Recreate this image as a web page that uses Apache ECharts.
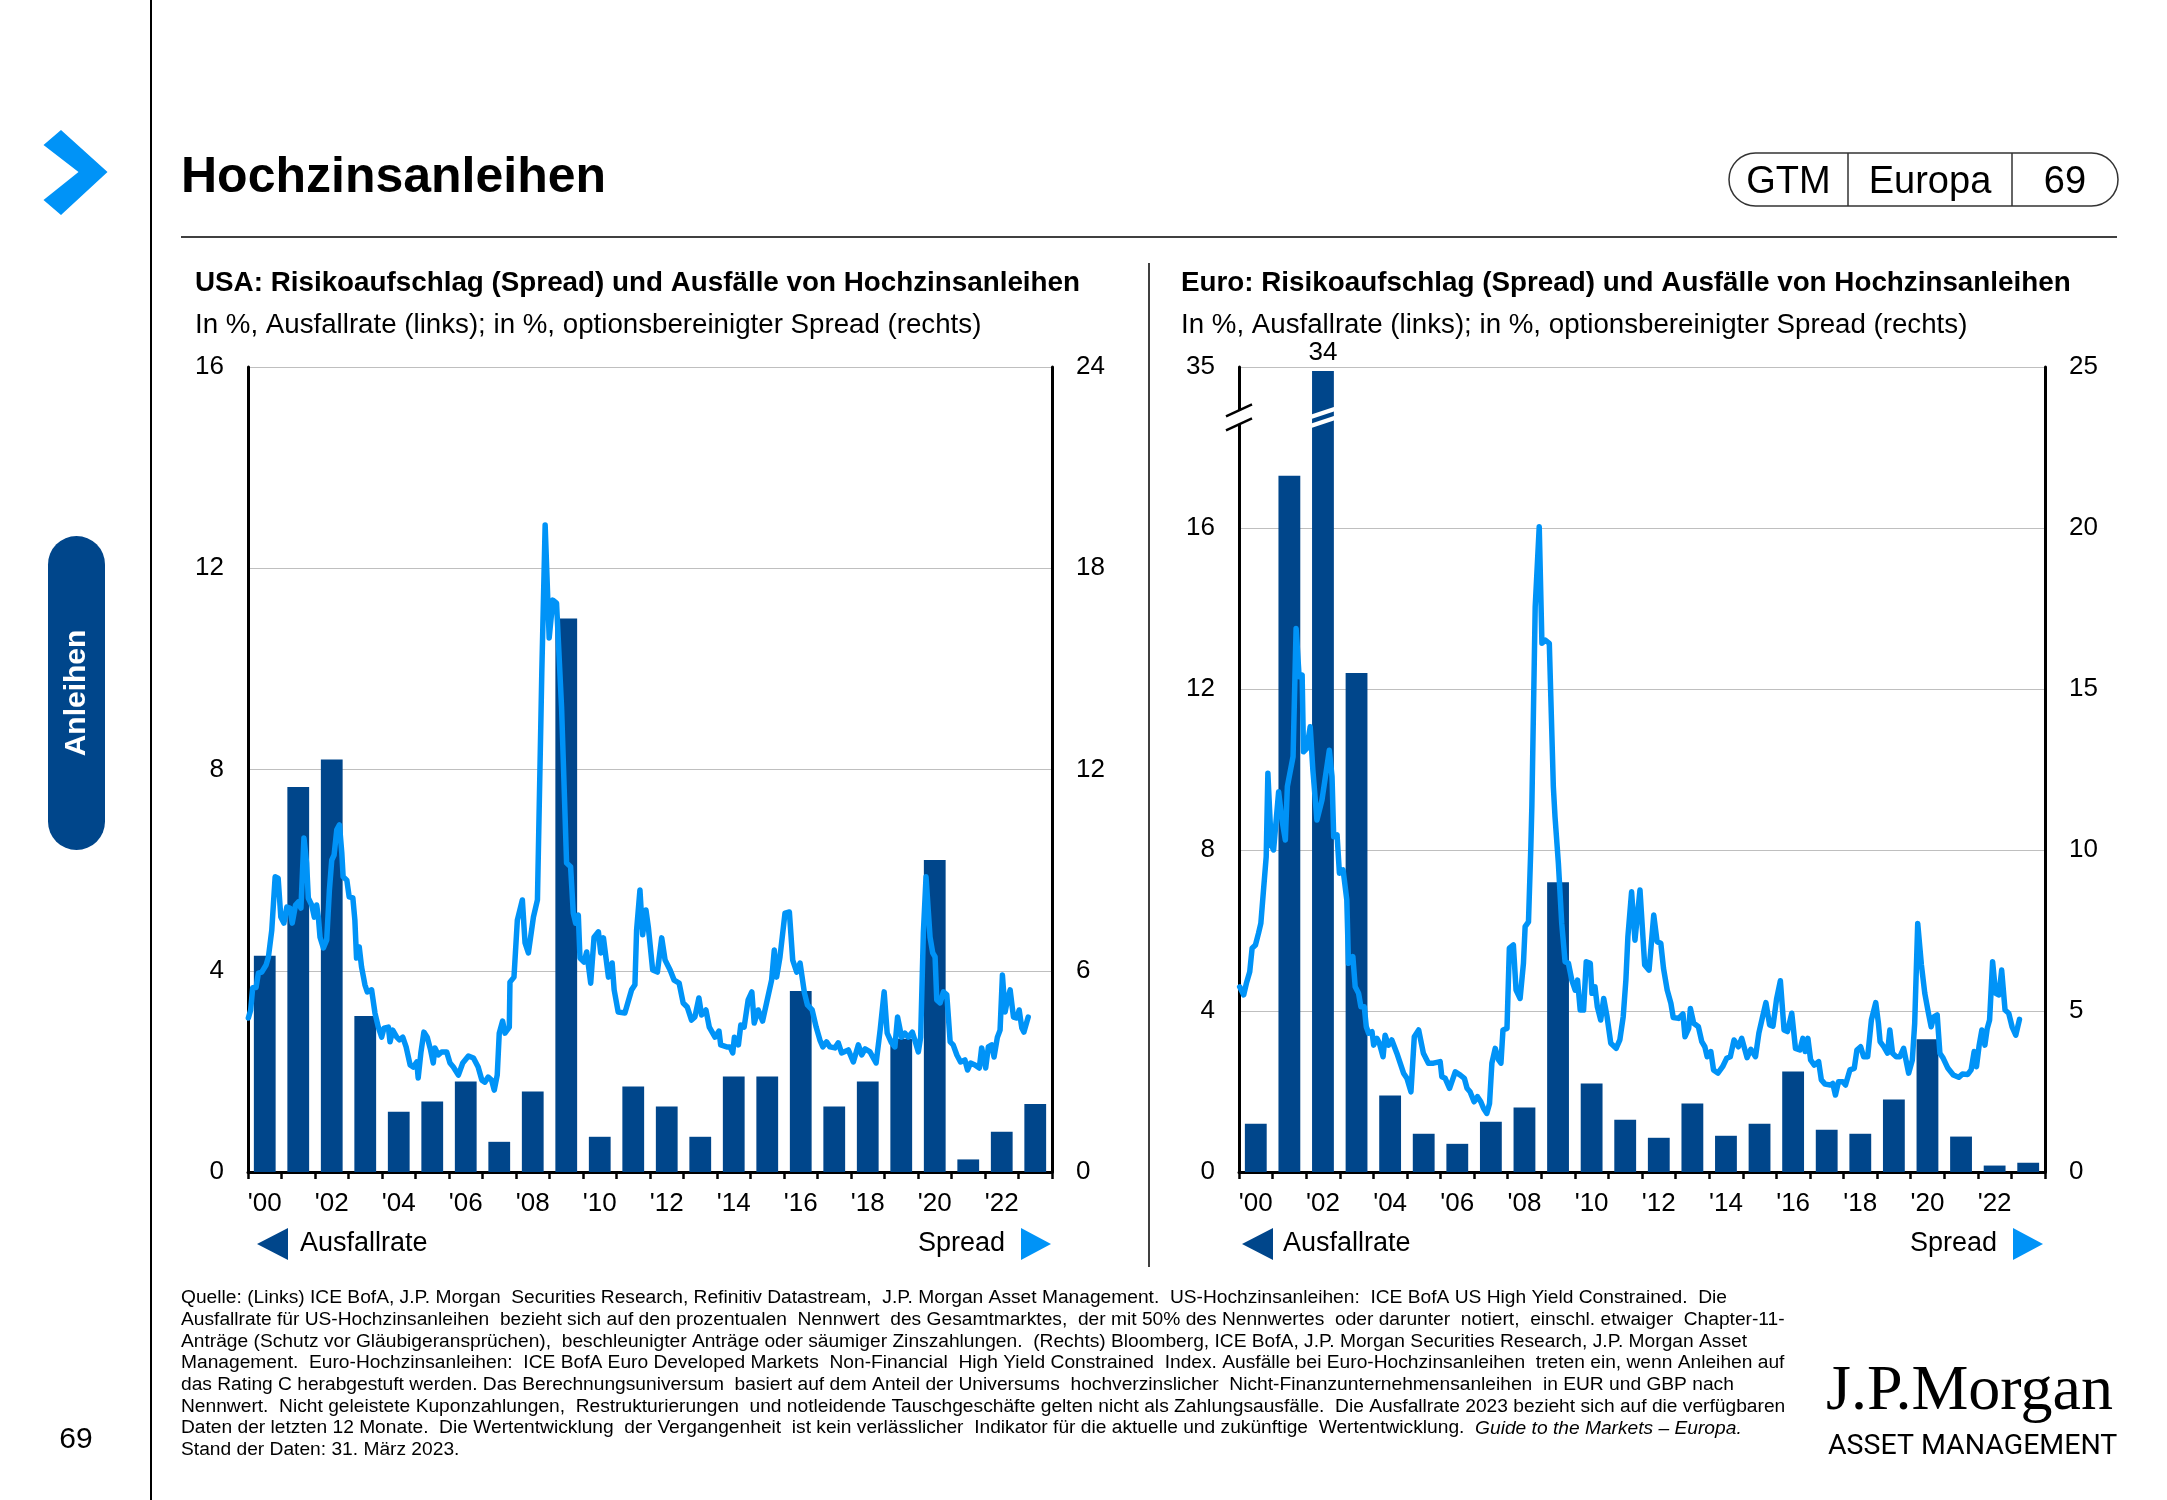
<!DOCTYPE html>
<html><head><meta charset="utf-8">
<script src="https://cdn.jsdelivr.net/npm/echarts@6/dist/echarts.min.js"></script>
<style>html,body{margin:0;padding:0;background:#fff}#c{width:2167px;height:1500px}</style>
</head><body><div id="c"></div>
<script>
// ---------- DATA ----------
const years = ['2000','2001','2002','2003','2004','2005','2006','2007','2008','2009','2010','2011','2012','2013','2014','2015','2016','2017','2018','2019','2020','2021','2022','2023'];
const usDefaultRate = [4.3,7.65,8.2,3.1,1.2,1.4,1.8,0.6,1.6,11.0,0.7,1.7,1.3,0.7,1.9,1.9,3.6,1.3,1.8,2.65,6.2,0.25,0.8,1.35];
const euDefaultRate = [1.2,17.3,34,12.4,1.9,0.95,0.7,1.25,1.6,7.2,2.2,1.3,0.85,1.7,0.9,1.2,2.5,1.05,0.95,1.8,3.3,0.88,0.16,0.23];
const usSpread = [[2000.01,4.59],[2000.08,4.83],[2000.14,5.49],[2000.24,5.50],[2000.31,5.93],[2000.41,5.96],[2000.54,6.17],[2000.61,6.41],[2000.71,7.21],[2000.81,8.80],[2000.90,8.76],[2000.98,7.60],[2001.07,7.42],[2001.16,7.90],[2001.25,7.87],[2001.32,7.42],[2001.42,7.96],[2001.50,8.05],[2001.58,7.87],[2001.67,9.96],[2001.75,9.21],[2001.80,8.17],[2001.90,7.96],[2001.98,7.60],[2002.05,7.96],[2002.10,7.60],[2002.15,7.00],[2002.25,6.68],[2002.35,6.92],[2002.43,8.41],[2002.50,9.30],[2002.57,9.45],[2002.65,10.20],[2002.73,10.35],[2002.80,9.51],[2002.84,8.80],[2002.95,8.70],[2003.02,8.20],[2003.13,8.17],[2003.19,7.51],[2003.24,6.38],[2003.32,6.71],[2003.39,6.11],[2003.49,5.58],[2003.56,5.37],[2003.69,5.43],[2003.79,4.74],[2003.89,4.32],[2003.99,4.02],[2004.06,4.29],[2004.19,4.32],[2004.24,3.88],[2004.32,4.23],[2004.44,4.02],[2004.52,3.94],[2004.62,4.02],[2004.72,3.73],[2004.84,3.19],[2004.93,3.13],[2005.04,3.28],[2005.08,2.80],[2005.16,3.55],[2005.25,4.17],[2005.35,4.02],[2005.45,3.64],[2005.53,3.25],[2005.58,3.70],[2005.68,3.49],[2005.78,3.58],[2005.93,3.58],[2006.03,3.25],[2006.13,3.13],[2006.28,2.89],[2006.41,3.25],[2006.58,3.46],[2006.73,3.40],[2006.87,3.13],[2006.98,2.74],[2007.07,2.68],[2007.17,2.83],[2007.27,2.74],[2007.35,2.44],[2007.44,2.89],[2007.50,4.14],[2007.60,4.50],[2007.67,4.14],[2007.80,4.32],[2007.82,5.66],[2007.94,5.81],[2008.04,7.51],[2008.19,8.11],[2008.27,6.83],[2008.37,6.53],[2008.52,7.60],[2008.64,8.11],[2008.77,14.88],[2008.87,19.29],[2008.99,15.92],[2009.10,17.05],[2009.21,16.96],[2009.36,13.86],[2009.51,9.21],[2009.63,9.10],[2009.71,7.72],[2009.78,7.42],[2009.86,7.66],[2009.91,6.38],[2010.03,6.26],[2010.11,6.56],[2010.23,5.63],[2010.33,7.00],[2010.46,7.16],[2010.53,6.53],[2010.61,6.98],[2010.76,5.81],[2010.87,6.23],[2010.93,5.43],[2011.05,4.77],[2011.25,4.74],[2011.45,5.43],[2011.55,5.58],[2011.60,7.21],[2011.70,8.41],[2011.78,7.07],[2011.88,7.81],[2011.95,7.30],[2012.08,6.02],[2012.22,5.96],[2012.35,6.98],[2012.45,6.32],[2012.60,6.02],[2012.72,5.72],[2012.87,5.63],[2012.99,5.04],[2013.11,4.92],[2013.24,4.53],[2013.34,4.62],[2013.46,5.19],[2013.54,4.68],[2013.67,4.83],[2013.77,4.32],[2013.94,4.02],[2014.06,4.20],[2014.11,3.79],[2014.29,3.73],[2014.39,3.73],[2014.47,3.55],[2014.52,4.02],[2014.64,3.79],[2014.71,4.38],[2014.81,4.32],[2014.93,5.13],[2015.04,5.37],[2015.11,4.44],[2015.23,4.83],[2015.36,4.50],[2015.48,5.04],[2015.63,5.72],[2015.71,6.62],[2015.78,5.81],[2015.88,6.41],[2016.03,7.72],[2016.16,7.75],[2016.26,6.32],[2016.38,5.96],[2016.48,6.23],[2016.61,5.34],[2016.70,4.98],[2016.84,4.83],[2016.96,4.32],[2017.07,3.94],[2017.16,3.73],[2017.27,3.88],[2017.37,3.73],[2017.52,3.70],[2017.62,3.85],[2017.72,3.55],[2017.92,3.64],[2018.07,3.28],[2018.22,3.79],[2018.32,3.49],[2018.42,3.67],[2018.57,3.58],[2018.65,3.43],[2018.75,3.25],[2018.87,4.23],[2018.99,5.37],[2019.08,4.14],[2019.21,3.85],[2019.31,3.73],[2019.39,4.62],[2019.51,4.02],[2019.61,4.14],[2019.71,4.02],[2019.83,4.17],[2019.93,3.85],[2020.01,3.58],[2020.08,4.02],[2020.16,7.13],[2020.24,8.80],[2020.36,7.00],[2020.44,6.53],[2020.51,6.41],[2020.56,5.13],[2020.66,5.04],[2020.76,5.37],[2020.86,5.28],[2020.96,3.88],[2021.05,3.79],[2021.16,3.49],[2021.27,3.28],[2021.40,3.34],[2021.48,3.04],[2021.57,3.25],[2021.70,3.19],[2021.83,3.10],[2021.90,3.70],[2022.02,3.10],[2022.10,3.73],[2022.20,3.79],[2022.27,3.43],[2022.37,4.02],[2022.45,4.23],[2022.52,5.87],[2022.60,4.77],[2022.67,5.13],[2022.75,5.43],[2022.85,4.62],[2022.95,4.59],[2023.02,4.83],[2023.10,4.29],[2023.16,4.17],[2023.29,4.62]];
const euSpread = [[2000.02,5.75],[2000.14,5.50],[2000.22,5.86],[2000.32,6.22],[2000.39,6.95],[2000.49,7.05],[2000.58,7.41],[2000.65,7.72],[2000.73,8.76],[2000.81,9.79],[2000.86,12.38],[2000.96,10.15],[2001.03,10.00],[2001.18,11.81],[2001.28,10.93],[2001.38,10.31],[2001.44,11.97],[2001.61,12.90],[2001.70,16.88],[2001.79,15.38],[2001.88,15.43],[2001.92,13.05],[2002.02,13.16],[2002.12,13.83],[2002.20,12.48],[2002.32,10.93],[2002.47,11.55],[2002.69,13.10],[2002.77,12.28],[2002.82,10.41],[2002.92,10.47],[2002.99,9.28],[2003.10,9.38],[2003.21,8.45],[2003.26,6.48],[2003.39,6.69],[2003.46,5.75],[2003.56,5.55],[2003.63,5.13],[2003.73,5.13],[2003.79,4.51],[2003.86,4.31],[2003.96,4.36],[2004.01,3.94],[2004.11,4.15],[2004.18,4.00],[2004.29,3.58],[2004.35,4.25],[2004.45,3.94],[2004.55,4.10],[2004.70,3.69],[2004.90,3.07],[2005.00,2.91],[2005.12,2.49],[2005.22,4.20],[2005.35,4.41],[2005.49,3.69],[2005.64,3.38],[2005.79,3.38],[2005.99,3.43],[2006.04,2.96],[2006.14,2.91],[2006.27,2.60],[2006.44,3.11],[2006.59,3.01],[2006.71,2.91],[2006.79,2.60],[2006.88,2.49],[2007.00,2.18],[2007.10,2.34],[2007.20,2.18],[2007.28,1.98],[2007.38,1.82],[2007.46,2.13],[2007.53,3.38],[2007.63,3.84],[2007.73,3.48],[2007.80,3.38],[2007.86,4.41],[2007.98,4.46],[2008.05,6.95],[2008.17,7.05],[2008.25,5.65],[2008.37,5.39],[2008.47,6.48],[2008.52,7.62],[2008.62,7.77],[2008.69,10.10],[2008.72,11.35],[2008.82,17.56],[2008.94,20.04],[2009.02,16.42],[2009.12,16.52],[2009.24,16.42],[2009.36,11.97],[2009.41,11.03],[2009.51,9.59],[2009.61,7.72],[2009.71,6.53],[2009.81,6.48],[2009.91,5.96],[2010.01,5.65],[2010.08,5.96],[2010.16,5.03],[2010.26,5.03],[2010.34,6.53],[2010.46,6.48],[2010.51,5.55],[2010.60,5.75],[2010.67,5.13],[2010.77,4.72],[2010.86,5.39],[2010.96,4.82],[2011.07,4.00],[2011.23,3.84],[2011.34,4.10],[2011.44,4.82],[2011.52,5.96],[2011.58,7.31],[2011.69,8.70],[2011.79,7.20],[2011.94,8.76],[2012.08,6.43],[2012.21,6.27],[2012.35,7.98],[2012.45,7.15],[2012.56,7.10],[2012.64,6.33],[2012.75,5.65],[2012.86,5.24],[2012.93,4.80],[2013.09,4.77],[2013.22,4.91],[2013.28,4.20],[2013.39,4.46],[2013.44,5.08],[2013.54,4.62],[2013.68,4.51],[2013.78,4.05],[2013.87,3.89],[2013.94,3.58],[2014.05,3.74],[2014.13,3.17],[2014.26,3.07],[2014.40,3.27],[2014.52,3.53],[2014.63,3.58],[2014.74,4.10],[2014.87,3.89],[2014.97,4.15],[2015.13,3.55],[2015.24,3.81],[2015.38,3.58],[2015.48,4.31],[2015.59,4.82],[2015.69,5.26],[2015.80,4.57],[2015.90,4.53],[2016.01,5.39],[2016.12,5.94],[2016.23,4.41],[2016.33,4.36],[2016.46,4.93],[2016.57,3.84],[2016.70,3.79],[2016.79,4.15],[2016.86,3.74],[2016.94,4.15],[2017.02,3.48],[2017.13,3.32],[2017.26,3.43],[2017.34,2.86],[2017.45,2.73],[2017.61,2.70],[2017.68,2.75],[2017.76,2.39],[2017.85,2.80],[2017.98,2.80],[2018.06,2.70],[2018.19,3.17],[2018.32,3.22],[2018.40,3.79],[2018.51,3.89],[2018.60,3.58],[2018.72,3.58],[2018.83,4.72],[2018.96,5.26],[2019.04,4.62],[2019.09,4.05],[2019.20,3.89],[2019.31,3.69],[2019.38,4.41],[2019.46,3.69],[2019.57,3.58],[2019.68,3.58],[2019.79,3.84],[2019.94,3.07],[2020.05,3.48],[2020.12,4.62],[2020.21,7.72],[2020.32,6.43],[2020.42,5.55],[2020.53,4.93],[2020.61,4.51],[2020.69,4.82],[2020.79,4.88],[2020.87,3.69],[2020.97,3.53],[2021.11,3.22],[2021.27,3.01],[2021.43,2.94],[2021.54,3.04],[2021.70,3.03],[2021.80,3.17],[2021.89,3.74],[2021.96,3.27],[2022.04,3.94],[2022.12,4.41],[2022.21,3.94],[2022.28,4.46],[2022.35,4.72],[2022.44,6.53],[2022.53,5.55],[2022.63,5.50],[2022.71,6.27],[2022.81,5.03],[2022.92,4.93],[2023.02,4.51],[2023.13,4.25],[2023.24,4.74]];
const usLeftTicks = ['0','4','8','12','16'];
const euLeftTicks = ['0','4','8','12','16','35'];
const EU_BREAK_AT = 18.75;   // axis value where the break is drawn
const EU_BAR_CAP = 19.9;     // height at which a broken bar is drawn

// ---------- STYLE ----------
const NAVY = '#00468B', BLUE = '#0093F7', FONT = '"Liberation Sans", Arial, sans-serif';
const G1 = {left:248, top:367, width:804, height:805};
const G2 = {left:1239, top:367, width:806, height:805};

const chart = echarts.init(document.getElementById('c'), null, {renderer:'canvas'});

function catAxis(gi){
  return {type:'category', gridIndex:gi, data:years, boundaryGap:true,
    axisLine:{show:true, lineStyle:{color:'#000', width:3}},
    axisTick:{show:true, interval:0, length:7, lineStyle:{color:'#000', width:2.5}},
    axisLabel:{interval:1, margin:19, color:'#000', fontSize:26, fontFamily:FONT, formatter:v=>"'"+v.slice(2)},
    splitLine:{show:false}};
}
function valXAxis(gi){ return {type:'value', gridIndex:gi, min:2000, max:2024, show:false}; }
function leftY(gi, max, ticks){
  return {type:'value', gridIndex:gi, min:0, max:max, interval:4, position:'left',
    axisLine:{show:true, lineStyle:{color:'#000', width:3}}, axisTick:{show:false},
    axisLabel:{margin:24, color:'#000', fontSize:26, fontFamily:FONT, formatter:v=>ticks[Math.round(v/4)]},
    splitLine:{show:true, lineStyle:{color:'#BFBFBF', width:1.2}}};
}
function rightY(gi, max, step){
  return {type:'value', gridIndex:gi, min:0, max:max, interval:step, position:'right',
    axisLine:{show:true, lineStyle:{color:'#000', width:3}}, axisTick:{show:false},
    axisLabel:{margin:24, color:'#000', fontSize:26, fontFamily:FONT},
    splitLine:{show:false}};
}

function txt(x, y, text, font, opts){
  opts = opts || {};
  return Object.assign({type:'text', x:x, y:y, z:50, style:{text:text, font:font, fill:opts.fill||'#000',
    textAlign:opts.align||'left', align:opts.align||'left', textVerticalAlign:'middle', verticalAlign:'middle'}}, opts.el||{});
}
function tri(points, color){ return {type:'polygon', z:50, shape:{points:points}, style:{fill:color}}; }

const footer = [
 'Quelle: (Links) ICE BofA, J.P. Morgan  Securities Research, Refinitiv Datastream,  J.P. Morgan Asset Management.  US-Hochzinsanleihen:  ICE BofA US High Yield Constrained.  Die',
 'Ausfallrate für US-Hochzinsanleihen  bezieht sich auf den prozentualen  Nennwert  des Gesamtmarktes,  der mit 50% des Nennwertes  oder darunter  notiert,  einschl. etwaiger  Chapter-11-',
 'Anträge (Schutz vor Gläubigeransprüchen),  beschleunigter Anträge oder säumiger Zinszahlungen.  (Rechts) Bloomberg, ICE BofA, J.P. Morgan Securities Research, J.P. Morgan Asset',
 'Management.  Euro-Hochzinsanleihen:  ICE BofA Euro Developed Markets  Non-Financial  High Yield Constrained  Index. Ausfälle bei Euro-Hochzinsanleihen  treten ein, wenn Anleihen auf',
 'das Rating C herabgestuft werden. Das Berechnungsuniversum  basiert auf dem Anteil der Universums  hochverzinslicher  Nicht-Finanzunternehmensanleihen  in EUR und GBP nach',
 'Nennwert.  Nicht geleistete Kuponzahlungen,  Restrukturierungen  und notleidende Tauschgeschäfte gelten nicht als Zahlungsausfälle.  Die Ausfallrate 2023 bezieht sich auf die verfügbaren',
 null,
 'Stand der Daten: 31. März 2023.'
];
const FFONT = '19.2px ' + FONT;
const graphics = [
  {type:'line', z:50, shape:{x1:151,y1:0,x2:151,y2:1500}, style:{stroke:'#000', lineWidth:2}},
  {type:'polygon', z:50, shape:{points:[[43.5,145],[61,130],[107.5,172],[61,215],[43.5,200],[78.5,172]]}, style:{fill:BLUE}},
  {type:'rect', z:50, shape:{x:48,y:536,width:57,height:314,r:28.5}, style:{fill:NAVY}},
  txt(77, 693, 'Anleihen', 'bold 30px '+FONT, {fill:'#fff', align:'center', el:{rotation:Math.PI/2}}),
  txt(76, 1440, '69', '30px '+FONT, {align:'center'}),
  txt(181, 178, 'Hochzinsanleihen', 'bold 50px '+FONT),
  {type:'rect', z:50, shape:{x:1729,y:153,width:389,height:53,r:26.5}, style:{fill:'none', stroke:'#333', lineWidth:1.5}},
  {type:'line', z:50, shape:{x1:1848,y1:153,x2:1848,y2:206}, style:{stroke:'#333', lineWidth:1.5}},
  {type:'line', z:50, shape:{x1:2012,y1:153,x2:2012,y2:206}, style:{stroke:'#333', lineWidth:1.5}},
  txt(1788.5, 182.5, 'GTM', '38px '+FONT, {align:'center'}),
  txt(1930, 182.5, 'Europa', '38px '+FONT, {align:'center'}),
  txt(2065, 182.5, '69', '38px '+FONT, {align:'center'}),
  {type:'line', z:50, shape:{x1:181,y1:237,x2:2117,y2:237}, style:{stroke:'#000', lineWidth:1.5}},
  txt(195, 283.5, 'USA: Risikoaufschlag (Spread) und Ausfälle von Hochzinsanleihen', 'bold 27.8px '+FONT),
  txt(195, 325, 'In %, Ausfallrate (links); in %, optionsbereinigter Spread (rechts)', '27.7px '+FONT),
  txt(1181, 283.5, 'Euro: Risikoaufschlag (Spread) und Ausfälle von Hochzinsanleihen', 'bold 27.8px '+FONT),
  txt(1181, 325, 'In %, Ausfallrate (links); in %, optionsbereinigter Spread (rechts)', '27.7px '+FONT),
  {type:'line', z:50, shape:{x1:1149,y1:263,x2:1149,y2:1267}, style:{stroke:'#000', lineWidth:1.5}},
  // legends US
  tri([[G1.left+9,1244],[G1.left+40,1228],[G1.left+40,1260]], NAVY),
  txt(G1.left+52, 1244, 'Ausfallrate', '27px '+FONT),
  tri([[G1.left+G1.width-31,1228],[G1.left+G1.width-31,1260],[G1.left+G1.width-1,1244]], BLUE),
  txt(G1.left+G1.width-47, 1244, 'Spread', '27px '+FONT, {align:'right'}),
  // legends Euro
  tri([[G2.left+3,1244],[G2.left+34,1228],[G2.left+34,1260]], NAVY),
  txt(G2.left+44, 1244, 'Ausfallrate', '27px '+FONT),
  tri([[G2.left+G2.width-32,1228],[G2.left+G2.width-32,1260],[G2.left+G2.width-2,1244]], BLUE),
  txt(G2.left+G2.width-48, 1244, 'Spread', '27px '+FONT, {align:'right'}),
  // logo
  txt(1826, 1392, 'J.P.Morgan', '64px "Liberation Serif", "Times New Roman", serif'),
  txt(1828, 1447, 'ASSET MANAGEMENT', '28.5px Roboto, '+FONT)
];
footer.forEach((line, i) => {
  const y = 1298 + i*21.7;
  if (line === null) {
    graphics.push({type:'text', x:181, y:y, z:50, style:{
      text:'{n|Daten der letzten 12 Monate.  Die Wertentwicklung  der Vergangenheit  ist kein verlässlicher  Indikator für die aktuelle und zukünftige  Wertentwicklung.  }{i|Guide to the Markets – Europa.}',
      textVerticalAlign:'middle', verticalAlign:'middle',
      rich:{n:{font:FFONT, fill:'#000'}, i:{font:'italic '+FFONT, fill:'#000'}}}});
  } else {
    graphics.push(txt(181, y, line, FFONT));
  }
});

const euBarData = euDefaultRate.map(v => v > EU_BAR_CAP ? {value:EU_BAR_CAP, realValue:v,
   label:{show:true, position:'top', distance:5, color:'#000', fontSize:26, fontFamily:FONT, formatter:String(v)}} : v);

const lineStyle = {color:BLUE, width:5.5, join:'round', cap:'round'};
const option = {
  animation:false,
  backgroundColor:'#fff',
  grid:[Object.assign({containLabel:false}, G1), Object.assign({containLabel:false}, G2)],
  xAxis:[catAxis(0), valXAxis(0), catAxis(1), valXAxis(1)],
  yAxis:[leftY(0,16,usLeftTicks), rightY(0,24,6), leftY(1,20,euLeftTicks), rightY(1,25,5)],
  series:[
    {type:'bar', name:'Ausfallrate', xAxisIndex:0, yAxisIndex:0, data:usDefaultRate, barWidth:'65%', itemStyle:{color:NAVY}, z:2},
    {type:'line', name:'Spread', xAxisIndex:1, yAxisIndex:1, data:usSpread, showSymbol:false, symbol:'none', lineStyle:lineStyle, z:3},
    {type:'bar', name:'Ausfallrate', xAxisIndex:2, yAxisIndex:2, data:euBarData, barWidth:'65%', itemStyle:{color:NAVY}, z:2},
    {type:'line', name:'Spread', xAxisIndex:3, yAxisIndex:3, data:euSpread, showSymbol:false, symbol:'none', lineStyle:lineStyle, z:3}
  ],
  graphic:{elements:graphics}
};
chart.setOption(option);

// ----- axis break marks (positions from the library's own scales) -----
const breaks = [];
const x0 = chart.convertToPixel({xAxisIndex:3}, 2000);
const pyA = chart.convertToPixel({yAxisIndex:2}, EU_BREAK_AT);
const sA = -0.46;
const yl = (x, off) => pyA + off + sA*(x - x0);
breaks.push({type:'polygon', z:60, shape:{points:[[x0-5,yl(x0-5,-7)],[x0+5,yl(x0+5,-7)],[x0+5,yl(x0+5,7)],[x0-5,yl(x0-5,7)]]}, style:{fill:'#fff'}});
[-7,7].forEach(off => breaks.push({type:'line', z:61, shape:{x1:x0-13,y1:yl(x0-13,off),x2:x0+13,y2:yl(x0+13,off)}, style:{stroke:'#000', lineWidth:2.5}}));
euDefaultRate.forEach((v, i) => {
  if (v <= EU_BAR_CAP) return;
  const cx = chart.convertToPixel({xAxisIndex:2}, years[i]);
  const band = chart.convertToPixel({xAxisIndex:2}, years[1]) - chart.convertToPixel({xAxisIndex:2}, years[0]);
  const hw = band*0.65/2 + 1.5;
  const py = chart.convertToPixel({yAxisIndex:2}, EU_BREAK_AT);
  const s = -0.33, t = 4.5;
  const yb = (x, off) => py + off + s*(x - cx);
  [-4.5, 4.5].forEach(off => breaks.push({type:'polygon', z:60, shape:{points:[
    [cx-hw, yb(cx-hw,off)-t/2],[cx+hw, yb(cx+hw,off)-t/2],[cx+hw, yb(cx+hw,off)+t/2],[cx-hw, yb(cx-hw,off)+t/2]]}, style:{fill:'#fff'}}));
});
option.graphic = {elements: graphics.concat(breaks)};
chart.setOption(option, true);
</script>
</body></html>
